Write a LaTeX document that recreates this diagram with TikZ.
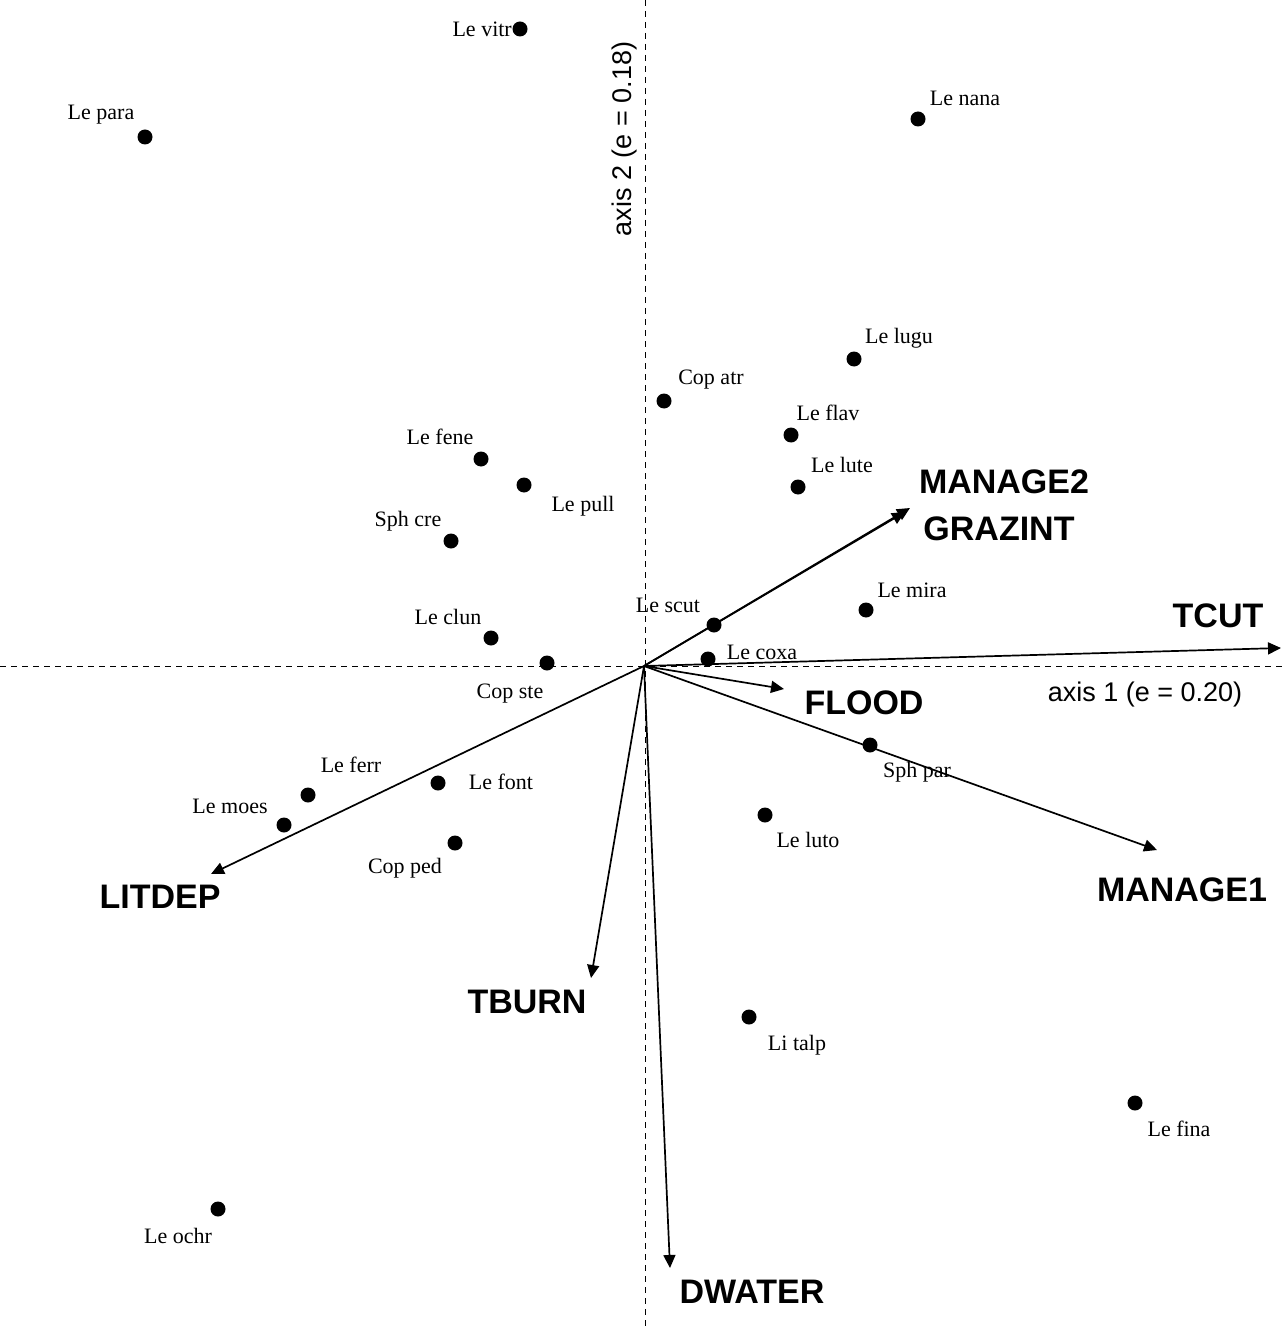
\documentclass[tikz,border=0pt]{standalone}
\usepackage{fontspec}
\setmainfont{Liberation Serif}
\newfontfamily\arialfont{Liberation Sans}
\usetikzlibrary{arrows.meta}
\tikzset{
  dot/.style={circle,fill=black,inner sep=0pt,minimum size=15pt},
  sp/.style={font=\fontsize{22}{24}\selectfont,inner sep=0pt},
  var/.style={font=\arialfont\bfseries\fontsize{34}{36}\selectfont,inner sep=0pt},
  axlab/.style={font=\arialfont\fontsize{27}{29}\selectfont,inner sep=0pt},
  axisline/.style={line width=0.9pt,dash pattern=on 6pt off 5pt},
  vec/.style={line width=1.7pt,-{Triangle[length=13pt,width=12pt]}},
}
\begin{document}
\begin{tikzpicture}[x=1pt,y=-1pt]
\useasboundingbox (0,0) rectangle (1284,1329);
% axes
\coordinate (axL) at (0,666);
\coordinate (axR) at (1284,666);
\coordinate (axT) at (645,0);
\coordinate (axB) at (645,1329);
\draw[axisline] (axL) -- (axR);
\draw[axisline] (axT) -- (axB);
\node[axlab] (ax1) at (1145,695) {axis 1 (e = 0.20)};
\node[axlab,rotate=90] (ax2) at (625,139) {axis 2 (e = 0.18)};
% origin and tips
\coordinate (o) at (644,666);
\coordinate (tM2) at (910,508);
\coordinate (tGR) at (905,512);
\coordinate (tTC) at (1281,648);
\coordinate (tFL) at (784,689);
\coordinate (tM1) at (1157,850);
\coordinate (tLD) at (211,874);
\coordinate (tTB) at (591,978);
\coordinate (tDW) at (670,1268);
\draw[vec] (o) -- (tM2);
\draw[vec] (o) -- (tGR);
\draw[vec] (o) -- (tTC);
\draw[vec] (o) -- (tFL);
\draw[vec] (o) -- (tM1);
\draw[vec] (o) -- (tLD);
\draw[vec] (o) -- (tTB);
\draw[vec] (o) -- (tDW);
% variable labels
\node[var] (lM2) at (1004,482) {MANAGE2};
\node[var] (lGR) at (999,529) {GRAZINT};
\node[var] (lTC) at (1218,616) {TCUT};
\node[var] (lFL) at (864,703) {FLOOD};
\node[var] (lM1) at (1182,890) {MANAGE1};
\node[var] (lLD) at (160,897) {LITDEP};
\node[var] (lTB) at (527,1002) {TBURN};
\node[var] (lDW) at (752,1292) {DWATER};
% species
\node[dot] (vitr) at (520,29) {};
\node[sp,anchor=east] (vitrL) at (512,29) {Le vitr};
\node[dot] (para) at (145,137) {};
\node[sp] (paraL) at (101,115) {Le para};
\node[dot] (nana) at (918,119) {};
\node[sp] (nanaL) at (965,98) {Le nana};
\node[dot] (lugu) at (854,359) {};
\node[sp] (luguL) at (899,338) {Le lugu};
\node[dot] (atr) at (664,401) {};
\node[sp] (atrL) at (711,380) {Cop atr};
\node[dot] (flav) at (791,435) {};
\node[sp] (flavL) at (828,413) {Le flav};
\node[dot] (lute) at (798,487) {};
\node[sp] (luteL) at (842,465) {Le lute};
\node[dot] (fene) at (481,459) {};
\node[sp] (feneL) at (440,437) {Le fene};
\node[dot] (pull) at (524,485) {};
\node[sp] (pullL) at (583,506) {Le pull};
\node[dot] (cre) at (451,541) {};
\node[sp] (creL) at (408,521) {Sph cre};
\node[dot] (clun) at (491,638) {};
\node[sp] (clunL) at (448,617) {Le clun};
\node[dot] (ste) at (547,663) {};
\node[sp] (steL) at (510,694) {Cop ste};
\node[dot] (scut) at (714,625) {};
\node[sp] (scutL) at (668,605) {Le scut};
\node[dot] (coxa) at (708,659) {};
\node[sp,fill=white,inner sep=1pt] (coxaL) at (762,652) {Le coxa};
\node[dot] (mira) at (866,610) {};
\node[sp] (miraL) at (912,590) {Le mira};
\node[dot] (spar) at (870,745) {};
\node[sp] (sparL) at (917,772) {Sph par};
\node[dot] (ferr) at (308,795) {};
\node[sp] (ferrL) at (351,765) {Le ferr};
\node[dot] (font) at (438,783) {};
\node[sp] (fontL) at (501,782) {Le font};
\node[dot] (moes) at (284,825) {};
\node[sp] (moesL) at (230,806) {Le moes};
\node[dot] (ped) at (455,843) {};
\node[sp] (pedL) at (405,868) {Cop ped};
\node[dot] (luto) at (765,815) {};
\node[sp] (lutoL) at (808,840) {Le luto};
\node[dot] (talp) at (749,1017) {};
\node[sp] (talpL) at (797,1045) {Li talp};
\node[dot] (fina) at (1135,1103) {};
\node[sp] (finaL) at (1179,1129) {Le fina};
\node[dot] (ochr) at (218,1209) {};
\node[sp] (ochrL) at (178,1236) {Le ochr};
\end{tikzpicture}
\end{document}
